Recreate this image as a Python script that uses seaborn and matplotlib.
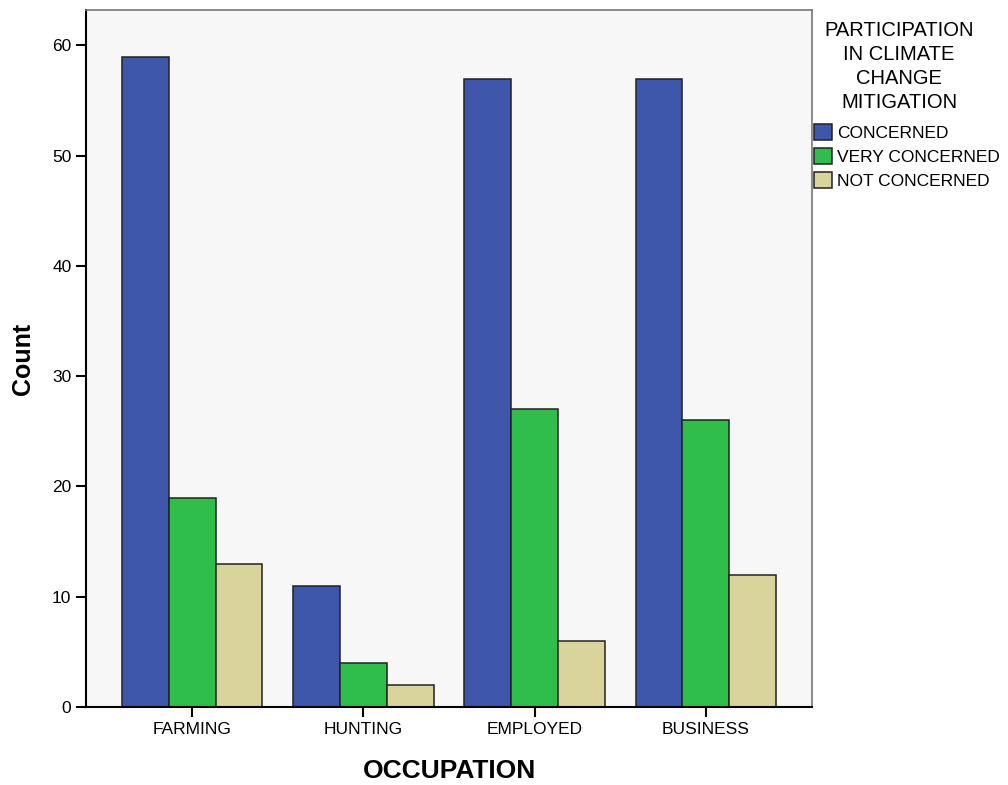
import pandas as pd
import matplotlib.pyplot as plt
import seaborn as sns

# Dados
ocupacoes = ["FARMING", "HUNTING", "EMPLOYED", "BUSINESS"]
niveis = ["CONCERNED", "VERY CONCERNED", "NOT CONCERNED"]
concerned = [59, 11, 57, 57]
very_concerned = [19, 4, 27, 26]
not_concerned = [13, 2, 6, 12]
cores = ["#3e57ab", "#2fbd4b", "#d8d49b"]

linhas = []
for nivel, valores in zip(niveis, [concerned, very_concerned, not_concerned]):
    for occ, v in zip(ocupacoes, valores):
        linhas.append({"OCCUPATION": occ, "Nivel": nivel, "Count": v})
df = pd.DataFrame(linhas)

sns.set_style("ticks")
plt.rcParams["font.family"] = ["Liberation Sans", "DejaVu Sans"]
plt.rcParams["text.color"] = "black"
plt.rcParams["axes.labelcolor"] = "black"
plt.rcParams["xtick.color"] = "black"
plt.rcParams["ytick.color"] = "black"

fig = plt.figure(figsize=(10.08, 7.85), dpi=100)
ax = fig.add_axes([0.0853, 0.0994, 0.7203, 0.8876])
ax.set_facecolor("#f7f7f7")

sns.barplot(data=df, x="OCCUPATION", y="Count", hue="Nivel", order=ocupacoes,
            hue_order=niveis, palette=cores, width=0.82, edgecolor="#222222",
            linewidth=1.1, saturation=1, ax=ax)

ax.set_xlim(-0.62, 3.62)
ax.set_ylim(0, 63.2)
ax.set_yticks([0, 10, 20, 30, 40, 50, 60])
ax.tick_params(axis="both", direction="out", length=7, width=1.5, labelsize=12.5)
for s in ["left", "bottom"]:
    ax.spines[s].set_linewidth(1.5)
    ax.spines[s].set_color("black")
for s in ["top", "right"]:
    ax.spines[s].set_linewidth(1.2)
    ax.spines[s].set_color("#777777")

ax.set_xlabel("OCCUPATION", fontsize=19, fontweight="bold", labelpad=16)
ax.set_ylabel("Count", fontsize=18, fontweight="bold", labelpad=12)

# titulo da legenda separado, centrado
fig.text(0.892, 0.973, "PARTICIPATION\nIN CLIMATE\nCHANGE\nMITIGATION",
         ha="center", va="top", fontsize=14.5, linespacing=1.32,
         multialignment="center")

handles, labels = ax.get_legend_handles_labels()
ax.legend_.remove()
fig.legend(handles, labels, loc="upper left", bbox_to_anchor=(0.808, 0.842),
           frameon=False, fontsize=12.5, handlelength=1.0, handleheight=1.0,
           handletextpad=0.3, labelspacing=0.42, borderpad=0, borderaxespad=0)

plt.savefig("out.png", dpi=100)
